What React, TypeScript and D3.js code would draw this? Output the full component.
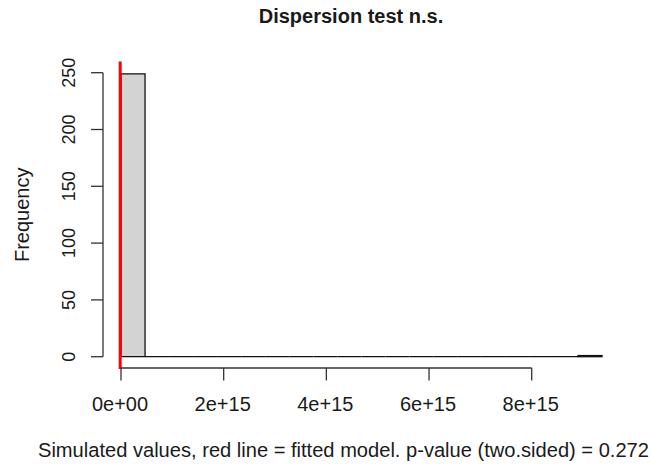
import React from "react";
import * as d3 from "d3";

// Histogram of simulated dispersion statistics (20 equal-width bins)
const binStart = 0;
const binEnd = 9.37e15;
const binCounts = [249, 0, 0, 0, 0, 0, 0, 0, 0, 0, 0, 0, 0, 0, 0, 0, 0, 0, 0, 1];
const observedValue = 0;
const xTicks = [0, 2e15, 4e15, 6e15, 8e15];
const xTickLabels = ["0e+00", "2e+15", "4e+15", "6e+15", "8e+15"];
const yTicks = [0, 50, 100, 150, 200, 250];

const titleText = "Dispersion test n.s.";
const xLabelText = "Simulated values, red line = fitted model. p-value (two.sided) = 0.272";
const yLabelText = "Frequency";

const W = 652;
const H = 464;
const FONT = "'Liberation Sans', Arial, sans-serif";
const INK = "#1a1a1a";

export default function App() {
  const x = d3.scaleLinear().domain([0, 8e15]).range([121, 531.7]);
  const y = d3.scaleLinear().domain([0, 250]).range([356.7, 72.7]);
  const binW = (binEnd - binStart) / binCounts.length;
  const bins = binCounts.map((c, i) => ({ x0: binStart + i * binW, x1: binStart + (i + 1) * binW, c }));
  const maxC = d3.max(binCounts) as number;
  const yTop = y(maxC * 1.04);
  const yBot = y(-maxC * 0.04);
  const axisX = 103;

  return (
    <svg width={W} height={H} style={{ position: "absolute", left: 0, top: 0, background: "#fff" }}>
      <rect x={0} y={0} width={W} height={H} fill="#fff" />
      {bins.map((b, i) => {
        const p = d3.path();
        p.moveTo(x(b.x0), y(0));
        p.lineTo(x(b.x0), y(b.c));
        p.lineTo(x(b.x1), y(b.c));
        p.lineTo(x(b.x1), y(0));
        p.closePath();
        return <path key={i} d={p.toString()} fill="#d3d3d3" stroke="#111" strokeWidth={1.3} />;
      })}
      {/* fitted model value */}
      <line x1={x(observedValue) - 0.8} x2={x(observedValue) - 0.8} y1={yTop - 1} y2={yBot + 1} stroke="#f00" strokeWidth={3} />
      {/* x axis */}
      <g stroke="#333" strokeWidth={1.3} fill="none">
        <line x1={x(xTicks[0])} x2={x(xTicks[xTicks.length - 1])} y1={yBot} y2={yBot} />
        {xTicks.map((t) => (
          <line key={t} x1={x(t)} x2={x(t)} y1={yBot} y2={yBot + 12.5} />
        ))}
      </g>
      {xTicks.map((t, i) => (
        <text key={t} x={x(t) - 1} y={411} textAnchor="middle" fontFamily={FONT} fontSize={20} fill={INK}>
          {xTickLabels[i]}
        </text>
      ))}
      {/* y axis */}
      <g stroke="#333" strokeWidth={1.3} fill="none">
        <line x1={axisX} x2={axisX} y1={y(0)} y2={y(250)} />
        {yTicks.map((t) => (
          <line key={t} x1={axisX - 12} x2={axisX} y1={y(t)} y2={y(t)} />
        ))}
      </g>
      {yTicks.map((t) => (
        <text key={t} transform={`translate(75,${y(t)}) rotate(-90)`} textAnchor="middle" fontFamily={FONT} fontSize={18} fill={INK}>
          {t}
        </text>
      ))}
      <text x={351} y={22.7} textAnchor="middle" fontFamily={FONT} fontSize={20} fontWeight="bold" fill={INK}>
        {titleText}
      </text>
      <text x={38} y={457} textAnchor="start" fontFamily={FONT} fontSize={20.1} fill={INK}>
        {xLabelText}
      </text>
      <text transform={`translate(28.5,214.8) rotate(-90)`} textAnchor="middle" fontFamily={FONT} fontSize={20} fill={INK}>
        {yLabelText}
      </text>
    </svg>
  );
}
